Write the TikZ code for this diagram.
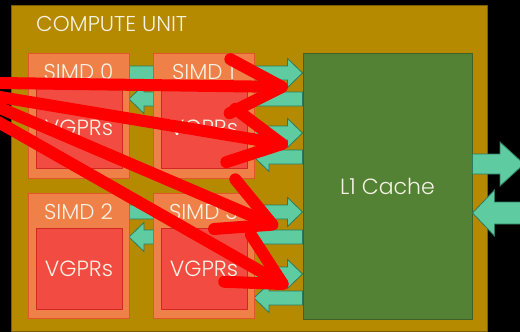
\documentclass[tikz,border=0pt]{standalone}
\usepackage{fontspec}
\setmainfont{Poppins}[UprightFont=* Light]
\usetikzlibrary{calc,arrows.meta,positioning}

\definecolor{cugold}{RGB}{181,137,0}
\definecolor{cuedge}{RGB}{122,93,0}
\definecolor{simdor}{RGB}{238,128,72}
\definecolor{simdedge}{RGB}{226,84,44}
\definecolor{vgprred}{RGB}{242,76,66}
\definecolor{vgpredge}{RGB}{208,40,36}
\definecolor{cachegr}{RGB}{84,130,53}
\definecolor{cacheedge}{RGB}{62,98,40}
\definecolor{busfill}{RGB}{94,204,160}
\definecolor{busedge}{RGB}{44,122,100}
\definecolor{txt}{RGB}{245,242,228}

\tikzset{
  cubox/.style={draw=cuedge, fill=cugold, line width=1pt, minimum width=476pt, minimum height=326pt, inner sep=0pt},
  simdbox/.style={draw=simdedge, fill=simdor, line width=1pt, minimum width=101pt, minimum height=125pt, inner sep=0pt},
  vgprbox/.style={draw=vgpredge, fill=vgprred, line width=1pt, minimum width=86pt, minimum height=81pt, inner sep=0pt, text=txt, font=\fontsize{22}{22}\selectfont},
  cachebox/.style={draw=cacheedge, fill=cachegr, line width=1pt, minimum width=169pt, minimum height=266pt, inner sep=0pt, text=txt, font=\fontsize{22}{22}\selectfont},
  lbl/.style={text=txt, font=\fontsize{21.5}{21.5}\selectfont, inner sep=0pt},
  bus/.style={fill=busfill, draw=busedge, line width=0.8pt, line join=miter},
  hit/.style={draw=red, line width=12pt, line cap=round, line join=round, -{Straight Barb[length=52pt,width=54pt,round]}},
}

% block arrow: tail #1, tip #2, half shaft #3, half head #4, head length #5
\newcommand\bus[5]{%
  \coordinate (ba) at (#1); \coordinate (bb) at (#2);
  \coordinate (bh) at ($(bb)!#5pt!(ba)$);
  \filldraw[bus] ($(ba)+(0,#3)$) -- ($(bh)+(0,#3)$) -- ($(bh)+(0,#4)$) -- (bb)
    -- ($(bh)+(0,-#4)$) -- ($(bh)+(0,-#3)$) -- ($(ba)+(0,-#3)$) -- cycle;}

\begin{document}
\begin{tikzpicture}[x=1pt, y=-1pt, line join=round]
\fill[black] (0,0) rectangle (520,332);
\useasboundingbox (0,0) rectangle (520,332);

\node[cubox] (cu) at (249,168) {};
\node[lbl, anchor=west] (cutitle) at (36,24) {COMPUTE UNIT};

% placeholders so the buses can start at the simd edges
\coordinate (simd0e) at (129,0);
\coordinate (simd1e) at (254,0);
\node[cachebox] (cache) at (387.5,186) {};

% data paths between the simds and the cache
\bus{simd0e |- 0,73}{cache.west |- 0,73}{7}{14.5}{15}
\bus{cache.west |- 0,99}{simd0e |- 0,99}{7}{14.5}{15}
\bus{simd1e |- 0,133}{cache.west |- 0,133}{7}{14.5}{15}
\bus{cache.west |- 0,157}{simd1e |- 0,157}{7}{14.5}{15}
\bus{simd0e |- 0,212}{cache.west |- 0,212}{7}{14.5}{15}
\bus{cache.west |- 0,237}{simd0e |- 0,237}{7}{14.5}{15}
\bus{simd1e |- 0,274}{cache.west |- 0,274}{7}{14.5}{15}
\bus{cache.west |- 0,298}{simd1e |- 0,298}{7}{14.5}{15}

% the simds
\node[simdbox] (simd0) at (78.5,115.5) {};
\node[simdbox] (simd1) at (203.5,115.5) {};
\node[simdbox] (simd2) at (78.5,256) {};
\node[simdbox] (simd3) at (203.5,256) {};
\node[lbl] (name0) at ($(simd0.north)+(0,19)$) {SIMD 0};
\node[lbl] (name1) at ($(simd1.north)+(0,19)$) {SIMD 1};
\node[lbl] (name2) at ($(simd2.north)+(0,19)$) {SIMD 2};
\node[lbl] (name3) at ($(simd3.north)+(0,19)$) {SIMD 3};
\node[vgprbox] (vgpr0) at ($(simd0.center)+(0.5,12.5)$) {VGPRs};
\node[vgprbox] (vgpr1) at ($(simd1.center)+(0.5,12.5)$) {VGPRs};
\node[vgprbox] (vgpr2) at ($(simd2.center)+(0.5,12.5)$) {VGPRs};
\node[vgprbox] (vgpr3) at ($(simd3.center)+(0.5,12.5)$) {VGPRs};

% cache on top, with its outside paths
\node[cachebox] (cache) at (387.5,186) {L1 Cache};
\coordinate (outR) at (524,164);
\coordinate (outL) at (535,213);
\bus{cache.east |- outR}{outR}{10}{22}{24}
\bus{outL}{cache.east |- outL}{11}{23}{22}

% red arrows coming in from the left
\coordinate (src1) at (-15,82.8);
\coordinate (src2) at (-15,94.5);
\coordinate (src3) at (-15,101.6);
\coordinate (src4) at (-15,114.5);
\coordinate (hit1) at (288,87);
\coordinate (hit2) at (288,145);
\coordinate (hit3) at (278,227);
\coordinate (hit4) at (288,287);
\draw[hit] (src1) -- (hit1);
\draw[hit] (src2) -- (hit2);
\draw[hit] (src3) -- (hit3);
\draw[hit] (src4) -- (hit4);
\end{tikzpicture}
\end{document}
